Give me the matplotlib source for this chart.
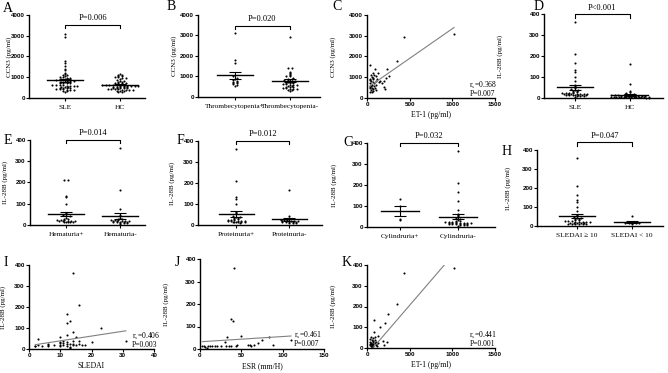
import numpy as np
import matplotlib
matplotlib.use("Agg")
import matplotlib.pyplot as plt

plt.rcParams['mathtext.fontset'] = 'stix'

# ---- data ----
ccn3_sle = [3100, 2950, 1800, 1700, 1550, 1400, 1350, 1200, 1150, 1100, 1100, 1050, 1000, 1000,
            950, 950, 900, 900, 900, 850, 850, 850, 800, 800, 800, 750, 750, 750, 700, 700, 700, 700,
            650, 650, 650, 650, 600, 600, 600, 600, 550, 550, 550, 500, 500, 500, 500, 450, 450, 450,
            400, 400, 400, 350, 350, 300]
ccn3_hc = [1150, 1100, 1100, 1050, 1050, 1000, 1000, 950, 950, 900, 850, 800, 800, 750, 750,
           700, 700, 700, 700, 650, 650, 650, 650, 650, 600, 600, 600, 600, 600, 600,
           550, 550, 550, 550, 550, 500, 500, 500, 500, 500, 450, 450, 450, 450,
           400, 400, 400, 400, 350, 350, 350, 300, 300]
ccn3_thr_pos = [3100, 1800, 1650, 1000, 950, 900, 850, 800, 750, 750, 700, 700, 650, 600, 550]
ccn3_thr_neg = [2950, 1400, 1400, 1200, 1150, 1100, 1050, 1000, 1000, 950, 900, 900, 850, 850,
                800, 800, 750, 750, 700, 700, 700, 650, 650, 600, 600, 600, 550, 550, 500, 500, 500,
                450, 450, 400, 400, 400, 350, 350, 300]

et1_c = [30, 30, 35, 40, 40, 45, 50, 50, 55, 60, 60, 65, 70, 70, 75, 80, 80, 85, 90, 95, 100, 100,
         110, 120, 130, 140, 150, 180, 200, 200, 210, 220, 230, 260, 350, 430, 1020, 45, 55, 75,
         40, 65, 35, 110]
ccn3_c = [300, 500, 700, 1600, 900, 600, 400, 800, 650, 1000, 500, 750, 1200, 350, 900, 600, 1100,
          700, 1400, 500, 800, 1050, 650, 900, 1200, 750, 800, 700, 550, 800, 450, 950, 1400, 1050,
          1800, 2950, 3100, 1100, 300, 450, 550, 950, 850, 400]

il_sle = [360, 210, 165, 135, 125, 100, 80, 60, 55, 50, 45, 40, 40, 35, 35, 30, 30, 25, 25, 25,
          22, 20, 20, 20, 20, 18, 18, 18, 15, 15, 15, 15, 12, 12, 12, 10, 10, 8, 5]
il_hc = [160, 65, 35, 30, 25, 20, 20, 18, 15, 15, 15, 12, 12, 12, 10, 10, 10, 10, 8, 8, 8, 8,
         7, 6, 6, 6, 6, 5, 5, 5, 5, 4, 4, 4, 3, 3, 3, 2, 2]
il_hem_pos = [210, 210, 135, 130, 100, 55, 50, 45, 40, 40, 35, 30, 30, 25, 25, 22, 20, 20, 20,
              18, 18, 15, 15, 15, 12, 12]
il_hem_neg = [360, 165, 75, 45, 35, 30, 30, 25, 25, 22, 20, 20, 20, 18, 18, 15, 15, 15, 12, 12,
              10, 10, 8, 5]
il_pro_pos = [360, 210, 135, 125, 100, 60, 55, 45, 40, 40, 35, 35, 30, 30, 25, 25, 22, 20, 20, 20,
              18, 18, 15, 15, 15, 15, 12, 12, 10]
il_pro_neg = [165, 45, 35, 30, 25, 25, 22, 20, 20, 20, 18, 18, 15, 15, 15, 12, 12, 10, 10, 8]
il_cyl_pos = [135, 100, 40, 35]
il_cyl_neg = [360, 210, 165, 125, 80, 60, 55, 50, 45, 40, 35, 30, 30, 25, 25, 25, 22, 20, 20, 20,
              20, 18, 18, 18, 15, 15, 15, 12, 12, 12, 10, 10, 8, 5]
il_sledai_hi = [360, 210, 165, 135, 125, 100, 80, 60, 55, 50, 45, 40, 40, 35, 35, 30, 30, 25, 25,
                25, 22, 20, 20, 20, 20, 18, 18, 15, 15, 15, 12, 12, 12, 10, 10, 8]
il_sledai_lo = [50, 22, 20, 20, 18, 18, 15, 15, 15, 12]

sledai_i = [2, 2, 3, 3, 4, 6, 6, 6, 8, 10, 10, 10, 10, 10, 11, 11, 11, 12, 12, 12, 12, 12, 12, 13,
            13, 13, 13, 14, 14, 14, 14, 14, 15, 15, 16, 16, 16, 17, 18, 20, 23, 31]
il_i = [15, 12, 50, 20, 15, 22, 18, 15, 18, 55, 35, 28, 20, 15, 40, 30, 20, 165, 125, 65, 35, 25,
        15, 135, 25, 10, 5, 360, 80, 40, 25, 20, 55, 20, 210, 40, 25, 20, 18, 35, 100, 38]

esr_j = [3, 5, 6, 8, 10, 12, 15, 18, 20, 25, 30, 32, 33, 35, 37, 38, 40, 41, 43, 45, 50, 58, 60,
         62, 65, 70, 75, 83, 88, 110]
il_j = [15, 12, 10, 5, 15, 15, 12, 12, 15, 15, 30, 15, 55, 12, 135, 15, 125, 360, 15, 20, 60, 20,
        18, 15, 18, 28, 38, 55, 20, 38]

et1_k = [30, 35, 40, 45, 50, 50, 55, 60, 60, 65, 70, 70, 75, 80, 85, 90, 95, 100, 105, 110, 120,
         130, 150, 130, 190, 200, 210, 230, 250, 350, 430, 1020, 40, 55, 65, 90, 45]
il_k = [20, 15, 30, 55, 10, 25, 40, 20, 15, 50, 30, 10, 20, 135, 75, 25, 40, 15, 30, 20, 10, 25,
        100, 60, 35, 15, 120, 30, 165, 210, 360, 385, 45, 5, 35, 55, 20]

# regression lines (slope, intercept)
fit_c = (2.86, 480)
fit_i = (2.28, 16)
fit_j = (0.234, 32)
fit_k = (0.478, -33)

W, H = 668, 373
fig = plt.figure(figsize=(W / 100, H / 100), dpi=100)

SERIF = 'Liberation Serif'
SANS = 'Liberation Sans'


def add_ax(l, r, t, b):
    ax = fig.add_axes([l / W, 1 - b / H, (r - l) / W, (b - t) / H])
    for s in ('top', 'right'):
        ax.spines[s].set_visible(False)
    for s in ('left', 'bottom'):
        ax.spines[s].set_linewidth(1.0)
    ax.tick_params(length=2, width=0.8, pad=1)
    return ax


def style_yticks(ax, ticks):
    ax.set_yticks(ticks)
    ax.set_yticklabels([str(t) for t in ticks], fontfamily=SANS, fontweight='bold', fontsize=4.5)


def place_ylabel(ax, box, text, xpx):
    ax.set_ylabel(text, fontfamily=SERIF, fontsize=5)
    ax.yaxis.set_label_coords((xpx - box[0]) / (box[1] - box[0]), 0.5)


def swarm(vals, top, step=0.065, nbins=60, maxw=0.34):
    vals = np.asarray(vals, float)
    bins = np.floor(vals / (top / nbins)).astype(int)
    off = np.zeros(len(vals))
    for b in np.unique(bins):
        idx = np.where(bins == b)[0]
        k = len(idx)
        st = step if k < 2 else min(step, 2 * maxw / (k - 1))
        off[idx] = (np.arange(k) - (k - 1) / 2) * st
    return off


def dot_panel(box, letter, letter_xy, groups, labels, xlim, ylim, yticks, ylabel, ylab_x,
              ptext, br_y, tick_len):
    ax = add_ax(*box)
    top = ylim[1]
    for i, g in enumerate(groups):
        g = np.asarray(g, float)
        ax.plot(i + swarm(g, top), g, 'o', color='black', ms=1.5, mew=0, clip_on=False)
        m = g.mean()
        sem = g.std(ddof=1) / np.sqrt(len(g))
        ax.plot([i - 0.33, i + 0.33], [m, m], color='black', lw=1.0)
        ax.errorbar(i, m, yerr=sem, fmt='none', ecolor='black', elinewidth=0.8,
                    capsize=4, capthick=0.8)
    ax.set_xlim(*xlim)
    ax.set_ylim(*ylim)
    style_yticks(ax, yticks)
    ax.set_xticks(range(len(labels)))
    ax.set_xticklabels(labels, fontfamily=SERIF, fontsize=5.3)
    ax.tick_params(axis='x', pad=3)
    place_ylabel(ax, box, ylabel, ylab_x)
    # significance bracket
    ax.plot([0, 0, 1, 1], [br_y - tick_len, br_y, br_y, br_y - tick_len], color='black',
            lw=0.8, clip_on=False)
    ax.text(0.5, br_y + tick_len * 0.8, ptext, ha='center', va='bottom', fontfamily=SERIF,
            fontsize=6, clip_on=False)
    fig.text(letter_xy[0] / W, 1 - letter_xy[1] / H, letter, fontfamily=SERIF, fontsize=10,
             va='center', ha='left')
    return ax


def scatter_panel(box, letter, letter_xy, x, y, fit, xlim, xticks, ylim, yticks, xlabel, ylabel,
                  ylab_x, rs, p, txt_x):
    ax = add_ax(*box)
    ax.plot(x, y, 'o', color='black', ms=1.5, mew=0, clip_on=False)
    xx = np.array([min(x), max(x)], float)
    ax.plot(xx, fit[0] * xx + fit[1], color='#808080', lw=0.8)
    ax.set_xlim(*xlim)
    ax.set_ylim(*ylim)
    style_yticks(ax, yticks)
    ax.set_xticks(xticks)
    ax.set_xticklabels([str(t) for t in xticks], fontfamily=SANS, fontweight='bold', fontsize=4.5)
    ax.set_xlabel(xlabel, fontfamily=SERIF, fontsize=5.5, labelpad=3)
    place_ylabel(ax, box, ylabel, ylab_x)
    ax.text(txt_x, 0.15, 'r$_\\mathrm{s}$=' + rs, transform=ax.transAxes, fontfamily=SERIF,
            fontsize=5.5, va='center', ha='left')
    ax.text(txt_x, 0.05, 'P=' + p, transform=ax.transAxes, fontfamily=SERIF,
            fontsize=5.5, va='center', ha='left')
    fig.text(letter_xy[0] / W, 1 - letter_xy[1] / H, letter, fontfamily=SERIF, fontsize=10,
             va='center', ha='left')
    return ax


ccn_ticks = [0, 1000, 2000, 3000, 4000]
il_ticks = [0, 100, 200, 300, 400]

# row 1
dot_panel((29, 145, 15, 98), 'A', (3, 8), [ccn3_sle, ccn3_hc], ['SLE', 'HC'], (-0.65, 1.45),
          (0, 4000), ccn_ticks, 'CCN3 (pg/ml)', 12, 'P=0.006', 3520, 160)
dot_panel((198, 320, 15, 97), 'B', (167, 7), [ccn3_thr_pos, ccn3_thr_neg],
          ['Thrombecytopenia+', 'Thrombecytopenia-'], (-0.67, 1.55),
          (0, 4000), ccn_ticks, 'CCN3 (pg/ml)', 177, 'P=0.020', 3460, 160)
scatter_panel((367, 495, 15, 98), 'C', (332, 6), et1_c, ccn3_c, fit_c, (0, 1500),
              [0, 500, 1000, 1500], (0, 4000), ccn_ticks, 'ET-1 (pg/ml)', 'CCN3 (pg/ml)', 336,
              '0.368', '0.007', 0.80)
dot_panel((544, 663, 14, 98), 'D', (534, 7), [il_sle, il_hc], ['SLE', 'HC'], (-0.56, 1.6),
          (0, 400), il_ticks, 'IL-28B (pg/ml)', 503, 'P<0.001', 398, 16)

# row 2
dot_panel((30, 145, 140, 225), 'E', (4, 140), [il_hem_pos, il_hem_neg],
          ['Hematuria+', 'Hematuria-'], (-0.67, 1.46),
          (0, 400), il_ticks, 'IL-28B (pg/ml)', 8, 'P=0.014', 400, 16)
dot_panel((198, 322, 141, 225), 'F', (177, 140), [il_pro_pos, il_pro_neg],
          ['Proteinuria+', 'Proteinuria-'], (-0.72, 1.62),
          (0, 400), il_ticks, 'IL-28B (pg/ml)', 175, 'P=0.012', 400, 16)
dot_panel((367, 495, 143, 227), 'G', (343, 142), [il_cyl_pos, il_cyl_neg],
          ['Cylindruria+', 'Cylindruria-'], (-0.57, 1.64),
          (0, 400), il_ticks, 'IL-28B (pg/ml)', 337, 'P=0.032', 402, 16)
dot_panel((537, 663, 150, 226), 'H', (502, 151), [il_sledai_hi, il_sledai_lo],
          ['SLEDAI \u2265 10', 'SLEDAI < 10'], (-0.73, 1.56),
          (0, 400), il_ticks, 'IL-28B (pg/ml)', 511, 'P=0.047', 440, 18)

# row 3
scatter_panel((29, 154, 265, 349), 'I', (4, 262), sledai_i, il_i, fit_i, (0, 40),
              [0, 10, 20, 30, 40], (0, 400), il_ticks, 'SLEDAI', 'IL-28B (pg/ml)', 6,
              '0.406', '0.003', 0.82)
scatter_panel((200, 324, 259, 349), 'J', (175, 262), esr_j, il_j, fit_j, (0, 150),
              [0, 50, 100, 150], (0, 400), il_ticks, 'ESR (mm/H)', 'IL-28B (pg/ml)', 169,
              '0.461', '0.007', 0.76)
scatter_panel((367, 495, 265, 348), 'K', (342, 263), et1_k, il_k, fit_k, (0, 1500),
              [0, 500, 1000, 1500], (0, 400), il_ticks, 'ET-1 (pg/ml)', 'IL-28B (pg/ml)', 336,
              '0.441', '0.001', 0.80)

fig.savefig('out.png', dpi=100)
